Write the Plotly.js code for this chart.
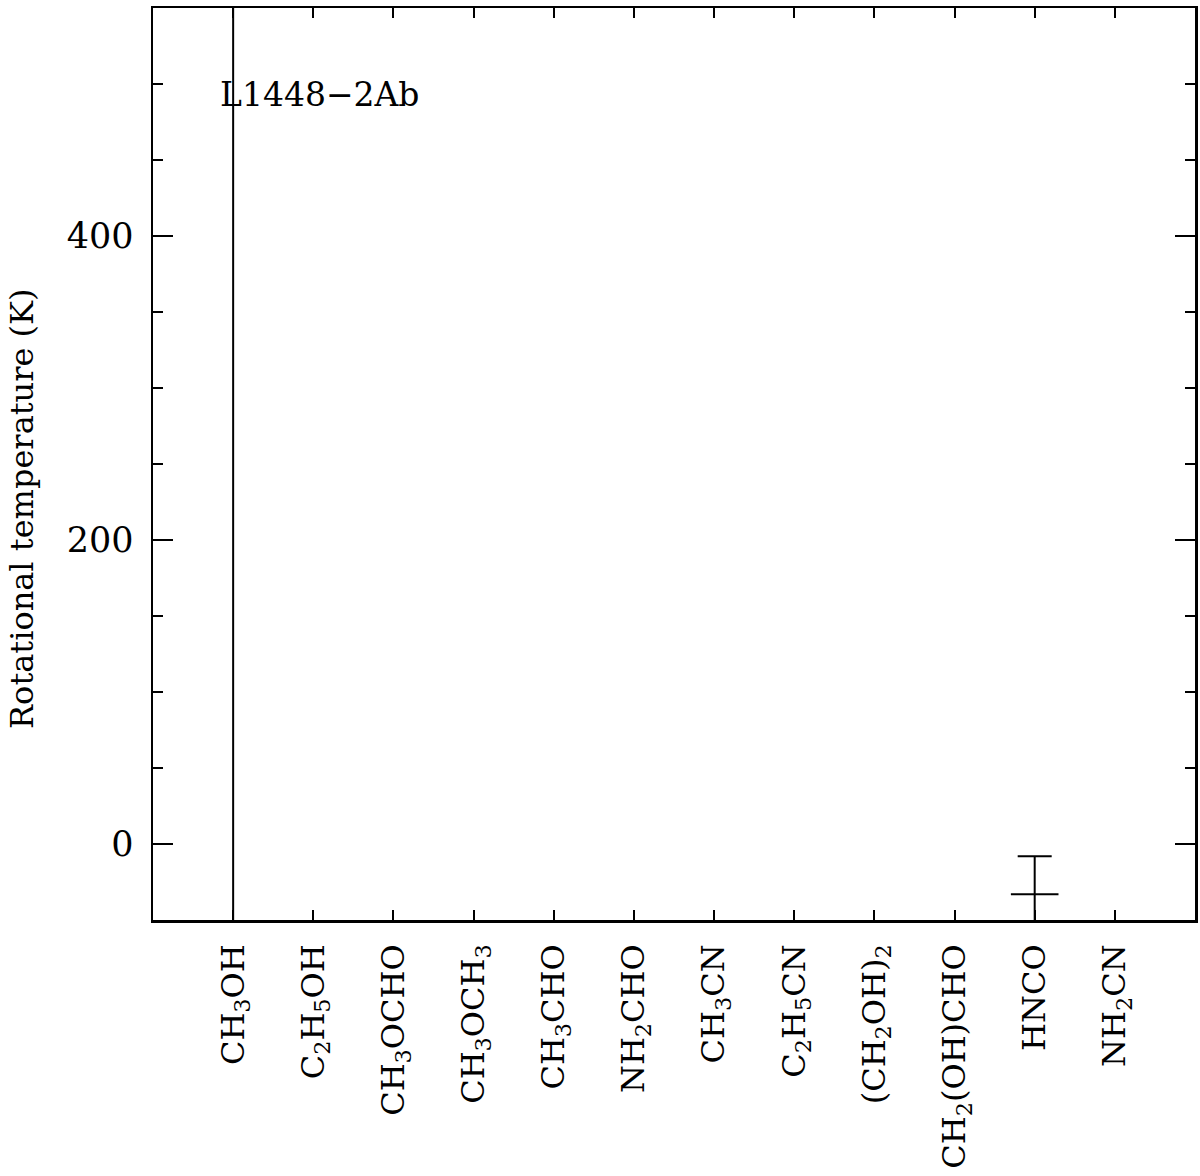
<!DOCTYPE html>
<html>
<head>
<meta charset="utf-8">
<script src="https://cdn.plot.ly/plotly-3.0.1.min.js"></script>
<style>
  body { margin: 0; background: #fff; }
  #chart { width: 1200px; height: 1176px; }
</style>
</head>
<body>
<div id="chart"></div>
<script>
// molecules along the x axis
var molecules = [
  "CH<sub>3</sub>OH", "C<sub>2</sub>H<sub>5</sub>OH", "CH<sub>3</sub>OCHO",
  "CH<sub>3</sub>OCH<sub>3</sub>", "CH<sub>3</sub>CHO", "NH<sub>2</sub>CHO",
  "CH<sub>3</sub>CN", "C<sub>2</sub>H<sub>5</sub>CN", "(CH<sub>2</sub>OH)<sub>2</sub>",
  "CH<sub>2</sub>(OH)CHO", "HNCO", "NH<sub>2</sub>CN"
];
// rotational temperature (K) and its uncertainty; CH3OH is off the top of the plot
var tRot = [700, null, null, null, null, null, null, null, null, null, -33, null];
var tErr = [800, null, null, null, null, null, null, null, null, null, 25, null];

var font = "DejaVu Serif, Liberation Serif, serif";

var trace = {
  x: molecules,
  y: tRot,
  type: "scatter",
  mode: "markers",
  marker: {symbol: "line-ew", size: 34, line: {color: "#000", width: 2}},
  error_y: {type: "data", array: tErr, visible: true, color: "#000", thickness: 2, width: 17},
  cliponaxis: true,
  showlegend: false
};

var layout = {
  width: 1200,
  height: 1176,
  margin: {l: 153, r: 5, t: 8, b: 256},
  paper_bgcolor: "#fff",
  plot_bgcolor: "#fff",
  font: {family: font, color: "#000", size: 34},
  xaxis: {
    type: "category",
    range: [-1, 12],
    ticks: "inside",
    ticklen: 10,
    tickwidth: 2,
    tickcolor: "#000",
    tickangle: -90,
    ticklabelstandoff: 9,
    showline: true,
    linewidth: 2.5,
    linecolor: "#000",
    mirror: "allticks",
    showgrid: false,
    zeroline: false,
    tickfont: {size: 32}
  },
  yaxis: {
    range: [-50, 550],
    tickvals: [0, 200, 400],
    ticks: "inside",
    ticklen: 20,
    tickwidth: 2,
    tickcolor: "#000",
    ticklabelstandoff: 10,
    minor: {tickvals: [50, 100, 150, 250, 300, 350, 450, 500], ticks: "inside", ticklen: 10, tickwidth: 2, tickcolor: "#000", showgrid: false},
    showline: true,
    linewidth: 2.5,
    linecolor: "#000",
    mirror: "allticks",
    showgrid: false,
    zeroline: false,
    tickfont: {size: 35}
  },
  annotations: [{
    xref: "paper", yref: "paper",
    x: 0.0624, y: 0.905,
    xanchor: "left", yanchor: "middle",
    text: "L1448\u22122Ab",
    showarrow: false,
    font: {size: 33}
  }, {
    // y-axis title, placed as in the reference (a little below the centre)
    xref: "paper", yref: "paper",
    x: -0.1257, y: 0.4507,
    xanchor: "center", yanchor: "middle",
    textangle: -90,
    text: "Rotational temperature (K)",
    showarrow: false,
    font: {size: 32}
  }]
};

Plotly.newPlot("chart", [trace], layout, {staticPlot: true});
</script>
</body>
</html>
